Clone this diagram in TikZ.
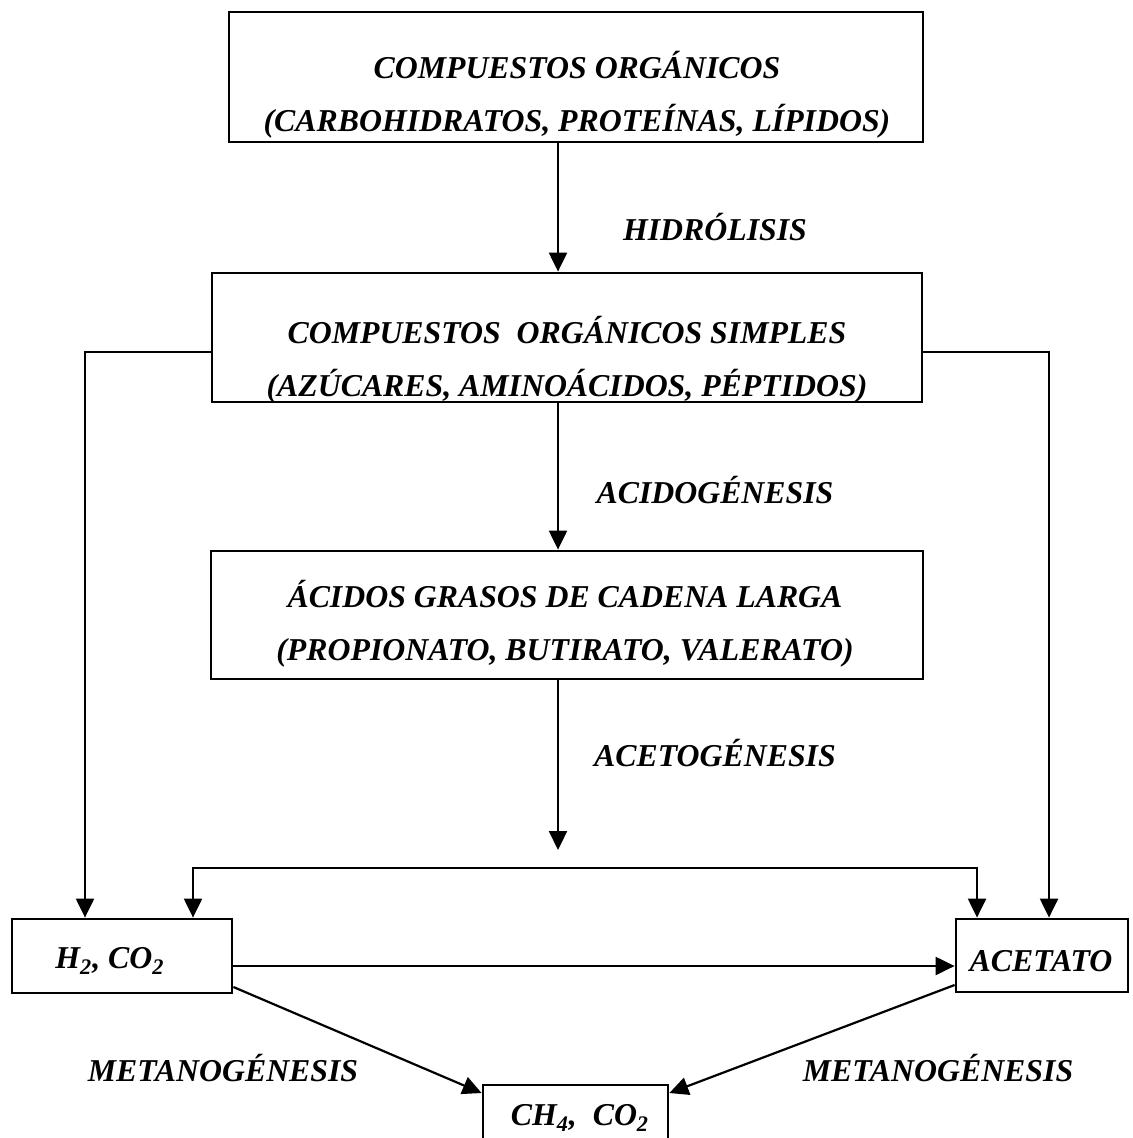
\documentclass[tikz,border=0pt]{standalone}
\usepackage{fontspec}
\setmainfont{Liberation Serif}
\usetikzlibrary{arrows.meta}
\begin{document}
\begin{tikzpicture}[x=0.5pt,y=-0.5pt,
  box/.style={draw, line width=1.4pt, inner sep=0pt},
  txt/.style={font=\bfseries\itshape\fontsize{15.9}{26.5}\selectfont, align=center, inner sep=0pt},
  arr/.style={line width=1.1pt, -{Triangle[width=9pt,length=9.5pt]}},
  darr/.style={line width=1.1pt, {Triangle[width=9pt,length=9.5pt]}-{Triangle[width=9pt,length=9.5pt]}}]
\useasboundingbox (0,0) rectangle (1132,1138);
\clip (0,0) rectangle (1132,1138);
\fill[white] (0,0) rectangle (1132,1138);

% boxes
\node[box, minimum width=347pt, minimum height=65pt] (b1) at (576,77) {};
\node[txt] (b1t) at (577,95) {COMPUESTOS ORGÁNICOS\\(CARBOHIDRATOS, PROTEÍNAS, LÍPIDOS)};

\node[box, minimum width=355pt, minimum height=64.5pt] (b2) at (567,337.5) {};
\node[txt] (b2t) at (567,360) {COMPUESTOS\ \ ORGÁNICOS SIMPLES\\(AZÚCARES, AMINOÁCIDOS, PÉPTIDOS)};

\node[box, minimum width=356pt, minimum height=64pt] (b3) at (567,615) {};
\node[txt] (b3t) at (565,624) {ÁCIDOS GRASOS DE CADENA LARGA\\(PROPIONATO, BUTIRATO, VALERATO)};

\node[box, minimum width=110pt, minimum height=37pt] (h2) at (122,956) {};
\node[txt] (h2t) at (110,961) {H\textsubscript{2}, CO\textsubscript{2}};

\node[box, minimum width=86pt, minimum height=36.5pt] (ac) at (1042,955.5) {};
\node[txt] (act) at (1041,961) {ACETATO};

\node[box, minimum width=92.5pt, minimum height=55pt] (ch) at (575.5,1140) {};
\node[txt] (cht) at (580,1118) {CH\textsubscript{4},\ \ CO\textsubscript{2}};

% process labels
\node[txt] (l1) at (715,227) {HIDRÓLISIS};
\node[txt] (l2) at (715,490) {ACIDOGÉNESIS};
\node[txt] (l3) at (715,753) {ACETOGÉNESIS};
\node[txt] (l4) at (223,1068) {METANOGÉNESIS};
\node[txt] (l5) at (938,1068) {METANOGÉNESIS};

% helper coordinates
\coordinate (xc) at (558,0);
\coordinate (m) at (558,850);
\coordinate (mL) at (193,868);
\coordinate (mR) at (977,868);
\coordinate (yb) at (0,352);
\coordinate (xL) at (85,0);
\coordinate (xR) at (1049,0);
\coordinate (yH) at (0,966);
\coordinate (d1) at (232,987);
\coordinate (d1e) at (483,1093);
\coordinate (d2) at (957,985);
\coordinate (d2e) at (668,1093);

% connectors
\draw[arr] (b1.south -| xc) -- (b2.north -| xc);
\draw[arr] (b2.south -| xc) -- (b3.north -| xc);
\draw[arr] (b3.south -| xc) -- (m);
\draw[darr] (h2.north -| mL) |- (mR) -- (ac.north -| mR);
\draw[arr] (b2.west |- yb) -| (h2.north -| xL);
\draw[arr] (b2.east |- yb) -| (ac.north -| xR);
\draw[arr] (h2.east |- yH) -- (ac.west |- yH);
\draw[arr] (h2.east |- d1) -- (ch.west |- d1e);
\draw[arr] (ac.west |- d2) -- (ch.east |- d2e);
\end{tikzpicture}
\end{document}
